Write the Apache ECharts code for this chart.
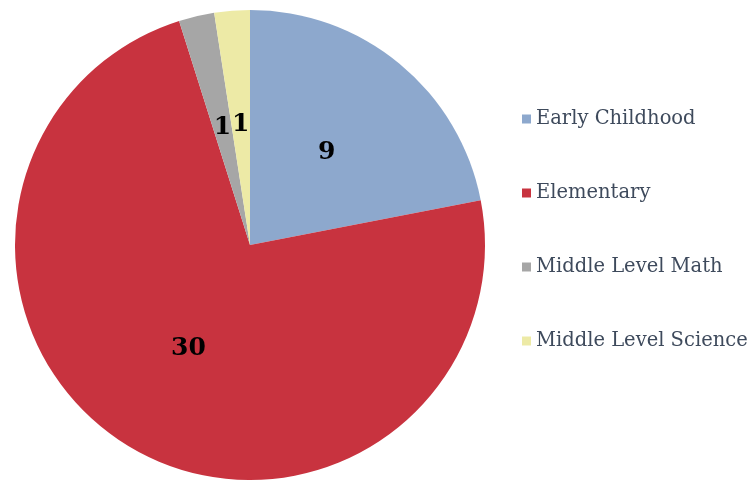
<!DOCTYPE html>
<html>
<head>
<meta charset="utf-8">
<script src="https://cdn.jsdelivr.net/npm/echarts@6/dist/echarts.min.js"></script>
<style>html,body{margin:0;padding:0;background:#fff;}#c{width:756px;height:481px;}</style>
</head>
<body>
<div id="c"></div>
<script>
const categories = ["Early Childhood", "Elementary", "Middle Level Math", "Middle Level Science"];
const values = [9, 30, 1, 1];
const colors = ["#8DA8CD", "#C8333F", "#A6A6A6", "#EDEAA6"];

const chart = echarts.init(document.getElementById('c'));
chart.setOption({
  animation: false,
  color: colors,
  legend: {
    orient: 'vertical',
    left: 517,
    top: 104,
    itemWidth: 9,
    itemHeight: 9,
    itemGap: 54,
    icon: 'rect',
    textStyle: { fontFamily: 'DejaVu Serif', fontSize: 19.5, lineHeight: 20, color: '#3E4A5C' },
    data: categories
  },
  series: [{
    type: 'pie',
    center: [250, 245],
    radius: [0, 235],
    startAngle: 90,
    clockwise: true,
    label: {
      show: true,
      position: 'inside',
      formatter: '{c}',
      fontFamily: 'DejaVu Serif',
      fontWeight: 'bold',
      fontSize: 25,
      color: '#000'
    },
    labelLine: { show: false },
    itemStyle: { borderWidth: 0 },
    emphasis: { disabled: true },
    data: categories.map((n, i) => ({ name: n, value: values[i] }))
  }]
});
</script>
</body>
</html>
